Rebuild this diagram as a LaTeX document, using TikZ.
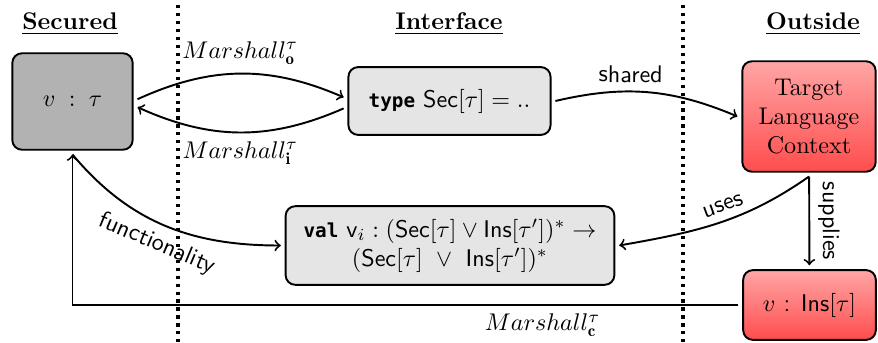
\documentclass[tikz,border=0pt]{standalone}
\usepackage{fontspec}
\usepackage{amsmath}
\usepackage{amssymb}
\newfontfamily\kwfont{DejaVu Sans Mono}[Scale=0.8]
\newcommand{\kw}[1]{{\kwfont\bfseries #1}}

\begin{document}
\begin{tikzpicture}[x=0.01457cm,y=-0.01457cm,thick,
		box/.style={draw=black,thick,rounded corners=4pt,outer sep=2pt,align=center},
		secbox/.style={box,fill=black!30},
		ifbox/.style={box,fill=black!10},
		outbox/.style={box,top color=red!35,bottom color=red!70},
		lbl/.style={font=\sffamily},
		sep/.style={dotted,line width=1.3pt}]
		\useasboundingbox (0,0) rectangle (878,343);

		\draw[sep] (178,5) -- (178,343);
		\draw[sep] (683,5) -- (683,343);

		\node (hsec) at (70,24){\underline{\textbf{Secured}}};
		\node (hif) at (449,24){\underline{\textbf{Interface}}};
		\node (hout) at (813,24){\underline{\textbf{Outside}}};

		\node[secbox,minimum width=49.9pt,minimum height=40pt] (sec) at (72.5,101.5){$v \;:\; \tau$};
		\node[ifbox,minimum width=83.8pt,minimum height=28.1pt] (type) at (449.5,101){\kw{type} $\mathsf{Sec}[\tau] = ..$};
		\node[outbox,minimum width=55.3pt,minimum height=45.8pt] (tlc) at (809,116.5){Target\\Language\\Context};
		\node[ifbox,minimum width=136.3pt,minimum height=32.6pt,inner sep=2pt] (val) at (450,245.5){\kw{val} $\mathsf{v}_i : (\mathsf{Sec}[\tau] \vee \mathsf{Ins}[\tau'])^* \rightarrow$\\$(\mathsf{Sec}[\tau]\ \vee\ \mathsf{Ins}[\tau'])^*$};
		\node[outbox,minimum width=55pt,minimum height=28.9pt] (ins) at (809.5,305){$v$ \textsf{:} $\mathsf{Ins}[\tau]$};

		\draw[->] (sec.2) to[bend left=24] node[above]{$Marshall^{\tau}_{\mathbf{o}}$} (type.178);
		\draw[->] (type.184) to[bend left=24] node[below]{$Marshall^{\tau}_{\mathbf{i}}$} (sec.-5);
		\draw[->] (type.east) to[bend left=18] node[lbl,pos=0.4,above,sloped]{shared} (tlc.west);
		\draw[->] (tlc.south) to[out=215,in=10] node[lbl,pos=0.45,above,sloped]{uses} (val.east);
		\draw[->] (tlc) -- node[lbl,midway,above,sloped]{supplies} (ins);
		\draw[->] (sec.south) to[out=-50,in=180] node[lbl,pos=0.5,below,sloped]{functionality} (val.west);
		\draw[->] (ins) -| node[pos=0.147,below]{$Marshall^{\tau}_{\mathbf{c}}$} (sec);

	\end{tikzpicture}
\end{document}
